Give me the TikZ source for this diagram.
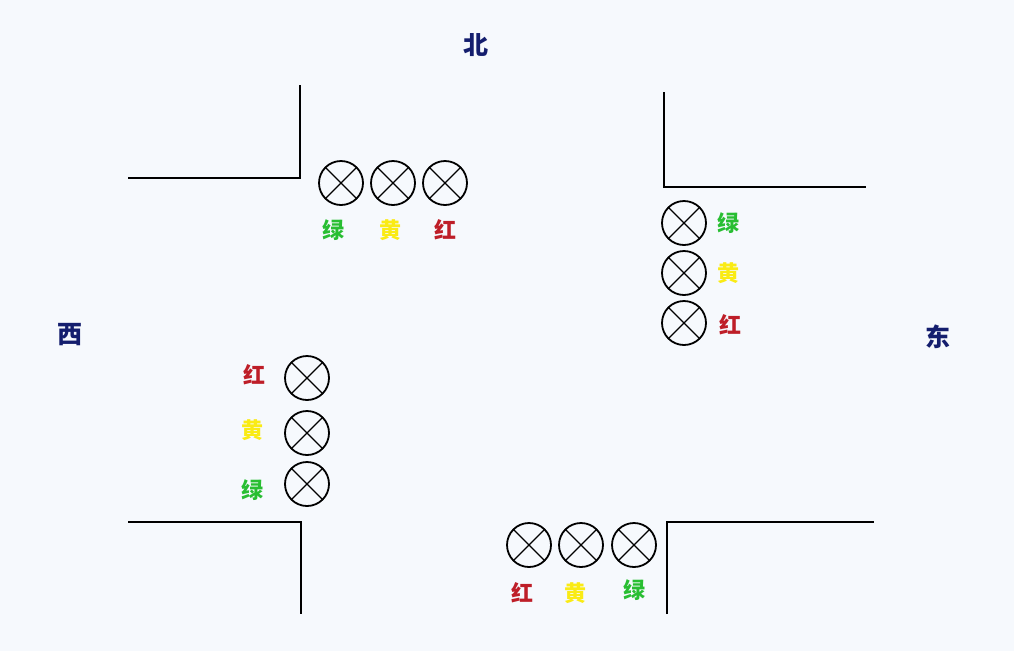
\documentclass[tikz,border=0pt]{standalone}
\usepackage{fontspec}
\newfontfamily\cjk{Noto Sans CJK SC}
\usetikzlibrary{positioning}
\definecolor{bg}{RGB}{246,249,253}
\definecolor{dirblue}{RGB}{20,30,110}
\definecolor{lred}{RGB}{190,30,40}
\definecolor{lgreen}{RGB}{40,190,50}
\definecolor{lyellow}{RGB}{250,235,20}
\tikzset{
  lamp/.style={draw, circle, line width=1.8pt, minimum size=44pt, inner sep=0pt,
    path picture={\draw[line width=1.3pt] (path picture bounding box.south west) -- (path picture bounding box.north east)
      (path picture bounding box.north west) -- (path picture bounding box.south east);}},
  dir/.style={font=\cjk\bfseries\fontsize{25}{25}\selectfont, text=dirblue},
  tag/.style={font=\cjk\bfseries\fontsize{22}{22}\selectfont},
  curb/.style={line width=1.5pt}
}
\begin{document}
\begin{tikzpicture}[x=1pt, y=-1pt]
\fill[bg] (0,0) rectangle (1014,651);
\useasboundingbox (0,0) rectangle (1014,651);

% directions
\node[dir] (n) at (476,45) {北};
\node[dir] (w) at (70,335) {西};
\node[dir] (e) at (938,337) {东};

% curbs
\draw[curb] (128,178) -- (300,178) -- (300,85);
\draw[curb] (664,92) -- (664,187) -- (866,187);
\draw[curb] (128,522) -- (301,522) -- (301,614);
\draw[curb] (667,614) -- (667,522) -- (874,522);

% north lamps
\node[lamp] (n1) at (341,183) {};
\node[lamp] (n2) at (393,183) {};
\node[lamp] (n3) at (445,183) {};
\node[tag, text=lgreen] at (333,230) {绿};
\node[tag, text=lyellow] at (390,230) {黄};
\node[tag, text=lred] at (445,230) {红};

% east lamps
\node[lamp] (e1) at (684,223) {};
\node[lamp] (e2) at (684,273) {};
\node[lamp] (e3) at (684,323) {};
\node[tag, text=lgreen] at (728,223) {绿};
\node[tag, text=lyellow] at (728,273) {黄};
\node[tag, text=lred] at (730,325) {红};

% west lamps
\node[lamp] (w1) at (307,378) {};
\node[lamp] (w2) at (307,433) {};
\node[lamp] (w3) at (307,484) {};
\node[tag, text=lred] at (254,375) {红};
\node[tag, text=lyellow] at (252,430) {黄};
\node[tag, text=lgreen] at (252,490) {绿};

% south lamps
\node[lamp] (s1) at (529,545) {};
\node[lamp] (s2) at (581,545) {};
\node[lamp] (s3) at (634,545) {};
\node[tag, text=lred] at (522,593) {红};
\node[tag, text=lyellow] at (575,593) {黄};
\node[tag, text=lgreen] at (634,590) {绿};
\end{tikzpicture}
\end{document}
